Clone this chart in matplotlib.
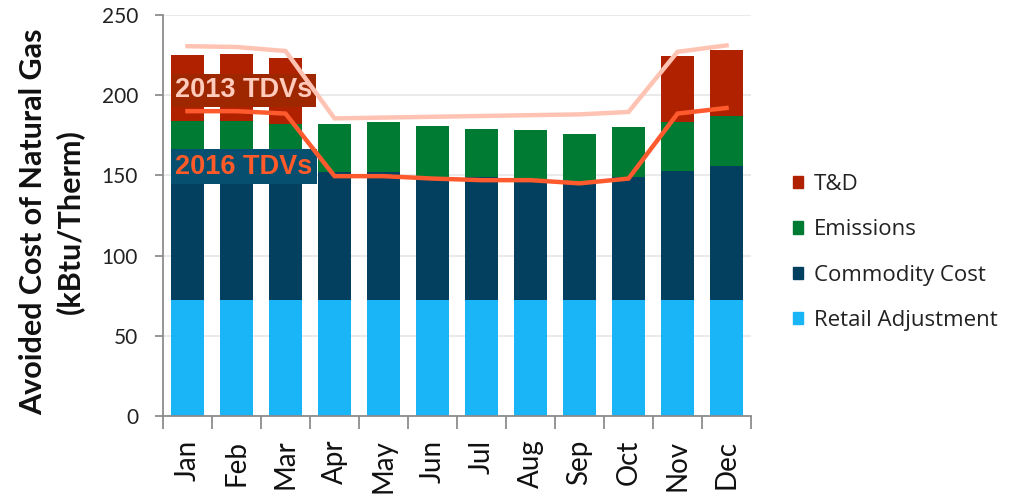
import matplotlib
matplotlib.use("Agg")
import matplotlib.pyplot as plt
from matplotlib.patches import Patch
import numpy as np

months = ["Jan", "Feb", "Mar", "Apr", "May", "Jun", "Jul", "Aug", "Sep", "Oct", "Nov", "Dec"]
retail = [72, 72, 72, 72, 72, 72, 72, 72, 72, 72, 72, 72]
commodity = [78, 78, 78, 80, 80, 77, 77, 74, 73, 77, 81, 84]
emissions = [34, 34, 32, 30, 31, 31.5, 30, 32, 31, 31, 30, 31]
td = [41, 41.5, 41, 0, 0, 0, 0, 0, 0, 0, 41.5, 41]
tdv2013 = [230.5, 230, 227.5, 185.5, 186, 186.5, 187, 187.5, 188, 189.5, 227, 231]
tdv2016 = [190, 190, 188.5, 149.5, 149.5, 148, 147, 147, 145, 148, 188.5, 192]

c_retail = "#19b5f7"
c_comm = "#03405f"
c_emis = "#007b33"
c_td = "#b02100"
c_2013 = "#ffc3b3"
c_2016 = "#ff5a2e"
c_axis = "#8c8c8c"

plt.rcParams['font.family'] = ['Lato', 'DejaVu Sans']

fig = plt.figure(figsize=(10.10, 4.97), dpi=100)
ax = fig.add_axes([0.1614, 0.163, 0.5822, 0.807])

x = np.arange(len(months))
w = 0.66
b1 = np.array(retail, float)
b2 = b1 + np.array(commodity)
b3 = b2 + np.array(emissions)
ax.bar(x, retail, w, color=c_retail, zorder=2)
ax.bar(x, commodity, w, bottom=b1, color=c_comm, zorder=2)
ax.bar(x, emissions, w, bottom=b2, color=c_emis, zorder=2)
ax.bar(x, td, w, bottom=b3, color=c_td, zorder=2)

ax.plot(x, tdv2013, color=c_2013, lw=3.2, zorder=4, solid_joinstyle='miter')
ax.plot(x, tdv2016, color=c_2016, lw=3.2, zorder=4, solid_joinstyle='miter')

ax.text(1.15, 203, "2013 TDVs", fontsize=19.5, fontweight='bold', family='Liberation Sans',
        color="#ffcbbd", ha='center', va='center', zorder=3,
        bbox=dict(boxstyle='square,pad=0.12', fc="#9e2700", ec='none'))
ax.text(1.15, 155.5, "2016 TDVs", fontsize=19.5, fontweight='bold', family='Liberation Sans',
        color="#ff5a28", ha='center', va='center', zorder=3,
        bbox=dict(boxstyle='square,pad=0.17', fc="#074f6e", ec='none'))

ax.set_xlim(-0.5, 11.5)
ax.set_ylim(0, 250)
ax.set_yticks([0, 50, 100, 150, 200, 250])
ax.yaxis.grid(True, color="#e6e6e6", lw=1.2, zorder=0)
ax.set_axisbelow(True)
for s in ['top', 'right']:
    ax.spines[s].set_visible(False)
for s in ['left', 'bottom']:
    ax.spines[s].set_color(c_axis)
    ax.spines[s].set_linewidth(1.3)

ax.set_xticks(x)
ax.set_xticklabels(months, rotation=90, fontsize=20, color="#111111")
ax.tick_params(axis='x', length=0, pad=17)
ax.set_xticks(np.arange(-0.5, 12, 1), minor=True)
ax.tick_params(axis='x', which='minor', length=9.5, color=c_axis, width=1.3)
ax.tick_params(axis='y', labelsize=15, length=5.5, color=c_axis, width=1.3, pad=12.5,
               labelcolor="#222222")

fig.text(52 / 1010, 1 - 221.5 / 497, "Avoided Cost of Natural Gas\n(kBtu/Therm)", fontsize=22,
         fontweight='bold', linespacing=1.33, rotation=90, ha='center', va='center',
         color="#111111")

handles = [Patch(color=c_td, label="T&D"), Patch(color=c_emis, label="Emissions"),
           Patch(color=c_comm, label="Commodity Cost"), Patch(color=c_retail, label="Retail Adjustment")]
fig.legend(handles=handles, loc='upper left', bbox_to_anchor=(0.776, 0.668), frameon=False,
           prop={'family': 'Open Sans', 'size': 16}, handlelength=0.47, handleheight=0.47,
           handletextpad=0.5, labelspacing=1.1, labelcolor="#222222", borderaxespad=0)

fig.savefig("out.png", dpi=100)
